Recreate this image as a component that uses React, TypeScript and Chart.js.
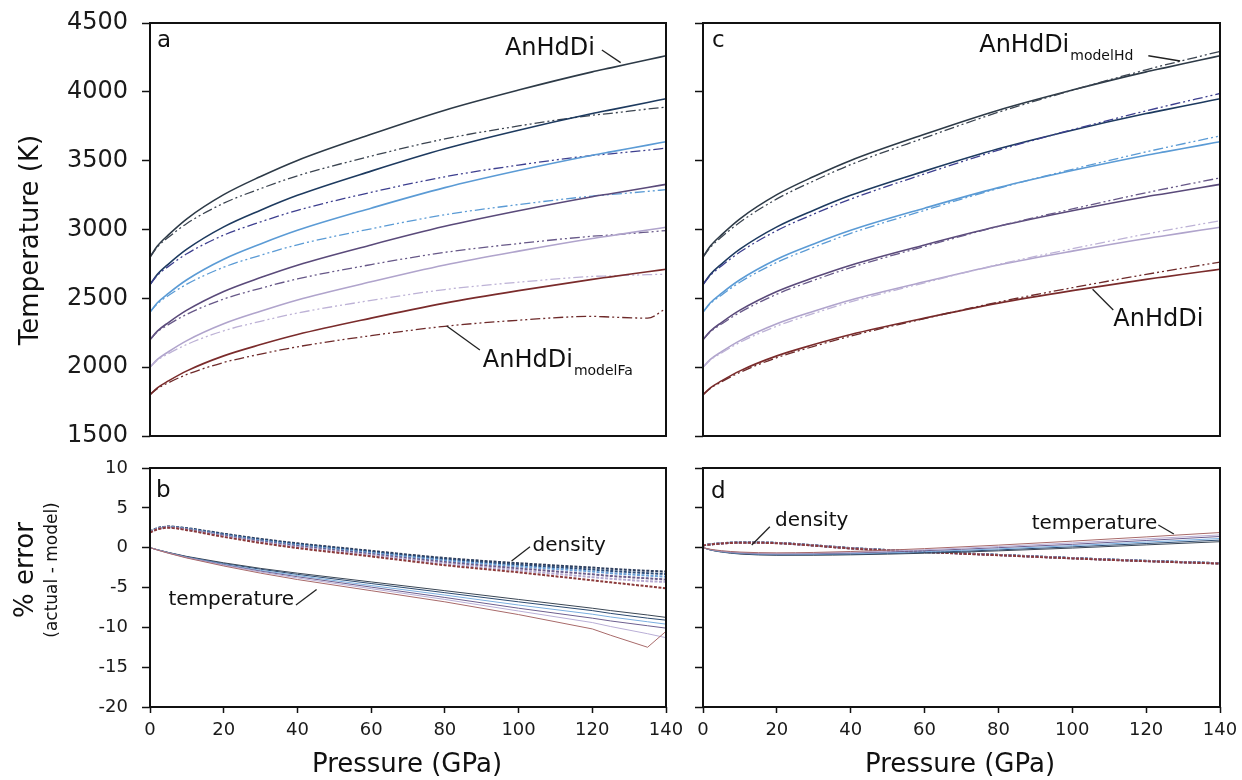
import React, { useEffect, useRef } from "react";
import { Chart, registerables } from "chart.js";

Chart.register(...registerables);

const FONT = '"DejaVu Sans", Verdana, sans-serif';

// Pressure grids (GPa)
const PRESSURE_AB = [0, 2, 5, 10, 20, 30, 40, 60, 80, 100, 120, 125, 135, 140];
const PRESSURE_CD = [0, 2, 5, 10, 20, 30, 40, 60, 80, 100, 120, 140];

// Actual adiabats (AnHdDi), K, on PRESSURE_AB
const ACTUAL_1800 = [1800, 1850, 1900, 1973, 2082, 2164, 2237, 2356, 2465, 2556, 2638, 2656, 2693, 2711];
const ACTUAL_2000 = [2000, 2056, 2112, 2193, 2315, 2406, 2488, 2620, 2742, 2843, 2935, 2955, 2996, 3016];
const ACTUAL_2200 = [2200, 2262, 2324, 2414, 2550, 2651, 2741, 2888, 3023, 3136, 3238, 3260, 3305, 3328];
const ACTUAL_2400 = [2400, 2468, 2536, 2635, 2784, 2895, 2994, 3155, 3304, 3428, 3539, 3564, 3613, 3638];
const ACTUAL_2600 = [2600, 2674, 2749, 2857, 3019, 3140, 3248, 3424, 3586, 3721, 3842, 3869, 3923, 3950];
const ACTUAL_2800 = [2800, 2880, 2961, 3078, 3253, 3385, 3502, 3692, 3867, 4013, 4145, 4174, 4233, 4262];

// Model Fa adiabats, K, on PRESSURE_AB
const MODELFA_1800 = [1800, 1844, 1887, 1947, 2034, 2095, 2148, 2229, 2297, 2341, 2369, 2364, 2356, 2426];
const MODELFA_2000 = [2000, 2050, 2098, 2165, 2264, 2333, 2393, 2485, 2564, 2617, 2659, 2663, 2672, 2675];
const MODELFA_2200 = [2200, 2256, 2309, 2384, 2495, 2573, 2641, 2745, 2834, 2898, 2951, 2960, 2981, 2992];
const MODELFA_2400 = [2400, 2461, 2520, 2603, 2726, 2813, 2889, 3005, 3107, 3181, 3243, 3254, 3277, 3289];
const MODELFA_2600 = [2600, 2667, 2732, 2824, 2959, 3055, 3139, 3270, 3383, 3468, 3538, 3550, 3576, 3591];
const MODELFA_2800 = [2800, 2873, 2943, 3044, 3191, 3297, 3390, 3533, 3658, 3752, 3830, 3844, 3875, 3889];

// Model Hd adiabats, K, on PRESSURE_CD
const MODELHD_1800 = [1800, 1846, 1893, 1962, 2069, 2151, 2226, 2353, 2473, 2577, 2674, 2763];
const MODELHD_2000 = [2000, 2052, 2103, 2180, 2298, 2390, 2474, 2613, 2746, 2860, 2967, 3064];
const MODELHD_2200 = [2200, 2257, 2313, 2398, 2530, 2631, 2723, 2877, 3023, 3149, 3267, 3375];
const MODELHD_2400 = [2400, 2462, 2523, 2617, 2761, 2871, 2972, 3139, 3299, 3437, 3564, 3680];
const MODELHD_2600 = [2600, 2667, 2735, 2836, 2992, 3112, 3221, 3404, 3576, 3725, 3862, 3988];
const MODELHD_2800 = [2800, 2871, 2945, 3053, 3222, 3353, 3471, 3666, 3852, 4011, 4160, 4294];

// % error, model Fa (panel b), on PRESSURE_AB
const ERRT_FA_1800 = [0, -0.3, -0.7, -1.3, -2.3, -3.2, -4.0, -5.4, -6.8, -8.4, -10.2, -11.0, -12.5, -10.5];
const ERRT_FA_2000 = [0, -0.29, -0.68, -1.26, -2.2, -3.05, -3.8, -5.15, -6.5, -7.95, -9.4, -9.9, -10.8, -11.3];
const ERRT_FA_2200 = [0, -0.28, -0.66, -1.23, -2.15, -2.95, -3.65, -4.95, -6.25, -7.6, -8.85, -9.2, -9.8, -10.1];
const ERRT_FA_2400 = [0, -0.27, -0.64, -1.2, -2.08, -2.85, -3.5, -4.75, -5.95, -7.2, -8.35, -8.7, -9.3, -9.6];
const ERRT_FA_2600 = [0, -0.26, -0.62, -1.15, -2.0, -2.7, -3.35, -4.5, -5.65, -6.8, -7.9, -8.25, -8.85, -9.1];
const ERRT_FA_2800 = [0, -0.25, -0.6, -1.1, -1.9, -2.6, -3.2, -4.3, -5.4, -6.5, -7.6, -7.9, -8.45, -8.75];

const ERRD_FA_1800 = [1.9, 2.3, 2.5, 2.2, 1.35, 0.6, -0.05, -1.1, -2.2, -3.1, -4.1, -4.35, -4.85, -5.1];
const ERRD_FA_2000 = [1.93, 2.33, 2.53, 2.25, 1.44, 0.7, 0.08, -0.95, -2.0, -2.85, -3.7, -3.9, -4.2, -4.3];
const ERRD_FA_2200 = [1.96, 2.37, 2.56, 2.3, 1.52, 0.8, 0.2, -0.8, -1.8, -2.6, -3.35, -3.55, -3.85, -4.0];
const ERRD_FA_2400 = [1.98, 2.4, 2.6, 2.35, 1.6, 0.9, 0.33, -0.65, -1.6, -2.35, -3.0, -3.2, -3.5, -3.65];
const ERRD_FA_2600 = [2.0, 2.43, 2.62, 2.4, 1.68, 1.0, 0.45, -0.52, -1.45, -2.15, -2.75, -2.92, -3.2, -3.3];
const ERRD_FA_2800 = [2.0, 2.45, 2.65, 2.45, 1.75, 1.1, 0.55, -0.4, -1.3, -1.95, -2.5, -2.65, -2.9, -3.0];

// % error, model Hd (panel d), on PRESSURE_CD
const ERRT_HD_1800 = [0, -0.2, -0.38, -0.55, -0.65, -0.6, -0.48, -0.12, 0.32, 0.82, 1.35, 1.9];
const ERRT_HD_2000 = [0, -0.22, -0.42, -0.6, -0.72, -0.68, -0.58, -0.26, 0.14, 0.6, 1.1, 1.6];
const ERRT_HD_2200 = [0, -0.24, -0.46, -0.65, -0.78, -0.75, -0.66, -0.38, 0.0, 0.42, 0.9, 1.4];
const ERRT_HD_2400 = [0, -0.26, -0.5, -0.7, -0.84, -0.82, -0.75, -0.5, -0.15, 0.25, 0.7, 1.15];
const ERRT_HD_2600 = [0, -0.28, -0.52, -0.75, -0.9, -0.88, -0.82, -0.6, -0.28, 0.1, 0.52, 0.95];
const ERRT_HD_2800 = [0, -0.3, -0.55, -0.8, -0.95, -0.95, -0.9, -0.7, -0.4, -0.05, 0.35, 0.75];

const ERRD_HD_1800 = [0.28, 0.4, 0.52, 0.62, 0.56, 0.26, -0.1, -0.55, -0.95, -1.35, -1.7, -2.0];
const ERRD_HD_2000 = [0.28, 0.41, 0.53, 0.63, 0.57, 0.27, -0.09, -0.54, -0.94, -1.34, -1.69, -1.99];
const ERRD_HD_2200 = [0.29, 0.41, 0.53, 0.63, 0.58, 0.28, -0.08, -0.53, -0.93, -1.33, -1.68, -1.98];
const ERRD_HD_2400 = [0.29, 0.42, 0.54, 0.64, 0.58, 0.28, -0.07, -0.52, -0.92, -1.32, -1.67, -1.97];
const ERRD_HD_2600 = [0.3, 0.42, 0.55, 0.64, 0.59, 0.29, -0.06, -0.51, -0.91, -1.31, -1.66, -1.96];
const ERRD_HD_2800 = [0.3, 0.42, 0.55, 0.65, 0.6, 0.3, -0.05, -0.5, -0.9, -1.3, -1.65, -1.95];

const Y_TICKS_TEMP = [1500, 2000, 2500, 3000, 3500, 4000, 4500];
const Y_TICKS_ERR = [-20, -15, -10, -5, 0, 5, 10];
const X_TICKS = [0, 20, 40, 60, 80, 100, 120, 140];

const SERIES = [
  { actual: ACTUAL_1800, fa: MODELFA_1800, hd: MODELHD_1800, etFa: ERRT_FA_1800, edFa: ERRD_FA_1800, etHd: ERRT_HD_1800, edHd: ERRD_HD_1800,
    cSolid: "#7a2b2b", cModel: "#6e2a2a", cErr: "#a86a6a", cDen: "#8c3a3a" },
  { actual: ACTUAL_2000, fa: MODELFA_2000, hd: MODELHD_2000, etFa: ERRT_FA_2000, edFa: ERRD_FA_2000, etHd: ERRT_HD_2000, edHd: ERRD_HD_2000,
    cSolid: "#b0a4cc", cModel: "#bdb2d6", cErr: "#b9aed6", cDen: "#b5a8d0" },
  { actual: ACTUAL_2200, fa: MODELFA_2200, hd: MODELHD_2200, etFa: ERRT_FA_2200, edFa: ERRD_FA_2200, etHd: ERRT_HD_2200, edHd: ERRD_HD_2200,
    cSolid: "#5a4a7a", cModel: "#675888", cErr: "#6d5f8f", cDen: "#6a5d8c" },
  { actual: ACTUAL_2400, fa: MODELFA_2400, hd: MODELHD_2400, etFa: ERRT_FA_2400, edFa: ERRD_FA_2400, etHd: ERRT_HD_2400, edHd: ERRD_HD_2400,
    cSolid: "#5b9bd5", cModel: "#5b9bd5", cErr: "#7aaee0", cDen: "#6a9fd6" },
  { actual: ACTUAL_2600, fa: MODELFA_2600, hd: MODELHD_2600, etFa: ERRT_FA_2600, edFa: ERRD_FA_2600, etHd: ERRT_HD_2600, edHd: ERRD_HD_2600,
    cSolid: "#1d3a5f", cModel: "#3d3f8f", cErr: "#2c4a70", cDen: "#2b4b78" },
  { actual: ACTUAL_2800, fa: MODELFA_2800, hd: MODELHD_2800, etFa: ERRT_FA_2800, edFa: ERRD_FA_2800, etHd: ERRT_HD_2800, edHd: ERRD_HD_2800,
    cSolid: "#2d3a47", cModel: "#3b4450", cErr: "#3a4654", cDen: "#2e3f5e" },
];

const zip = (xs: number[], ys: number[]) => xs.map((x, i) => ({ x, y: ys[i] }));

const MODEL_DASH = [10, 3, 2, 3, 2, 3];
const DENS_DASH = [3, 1.5];

const curve = (data: any[], color: string, width: number, dash: number[] = []) => ({
  data,
  borderColor: color,
  borderWidth: width,
  borderDash: dash,
  pointRadius: 0,
  fill: false,
  cubicInterpolationMode: "monotone" as const,
});

const straight = (data: any[], color: string, width: number, dash: number[] = []) => ({
  data,
  borderColor: color,
  borderWidth: width,
  borderDash: dash,
  pointRadius: 0,
  fill: false,
  tension: 0,
});

const decorPlugin = {
  id: "decor",
  afterDraw(chart: any, _args: any, opts: any) {
    const { ctx, chartArea, scales } = chart;
    const { left, top, right, bottom } = chartArea;
    ctx.save();
    ctx.strokeStyle = "#111";
    ctx.lineWidth = 2;
    ctx.strokeRect(left, top, right - left, bottom - top);
    ctx.fillStyle = "#111";
    ctx.textAlign = "left";
    ctx.textBaseline = "alphabetic";
    ctx.font = `23px ${FONT}`;
    ctx.fillText(opts.letter, left + opts.letterDx, top + opts.letterDy);
    const xs = scales.x;
    const ys = scales.y;
    for (const n of opts.notes || []) {
      ctx.strokeStyle = "#222";
      ctx.lineWidth = 1.3;
      ctx.beginPath();
      ctx.moveTo(xs.getPixelForValue(n.line[0]), ys.getPixelForValue(n.line[1]));
      ctx.lineTo(xs.getPixelForValue(n.line[2]), ys.getPixelForValue(n.line[3]));
      ctx.stroke();
      ctx.font = `${n.size}px ${FONT}`;
      const tx = xs.getPixelForValue(n.x);
      const ty = ys.getPixelForValue(n.y);
      ctx.fillText(n.text, tx, ty);
      if (n.sub) {
        const w = ctx.measureText(n.text).width;
        ctx.font = `14px ${FONT}`;
        ctx.fillText(n.sub, tx + w + 1, ty + 8);
      }
    }
    ctx.restore();
  },
};

function makeOptions(p: {
  yMin: number; yMax: number; yTicks: number[]; showYLabels: boolean; yWidth: number; yFont: number;
  showX: boolean; xHeight: number; padding: any; letter: string; letterDx: number; letterDy: number; notes: any[];
}) {
  return {
    responsive: false,
    animation: false as const,
    devicePixelRatio: 1,
    layout: { padding: p.padding },
    plugins: {
      legend: { display: false },
      tooltip: { enabled: false },
      decor: { letter: p.letter, letterDx: p.letterDx, letterDy: p.letterDy, notes: p.notes },
    },
    scales: {
      x: {
        type: "linear" as const,
        min: 0,
        max: 140,
        display: p.showX,
        afterFit: (s: any) => {
          if (p.showX) s.height = p.xHeight;
          s.paddingLeft = 0;
          s.paddingRight = 0;
        },
        afterBuildTicks: (s: any) => { s.ticks = X_TICKS.map((v) => ({ value: v })); },
        border: { display: false },
        grid: { display: true, drawOnChartArea: false, drawTicks: true, tickLength: 6, tickColor: "#111", tickWidth: 1.5 },
        ticks: { color: "#1a1a1a", font: { family: FONT, size: 18 }, padding: 7, maxRotation: 0, callback: (v: any) => String(v) },
      },
      y: {
        type: "linear" as const,
        min: p.yMin,
        max: p.yMax,
        afterFit: (s: any) => {
          s.width = p.yWidth;
          s.paddingTop = 0;
          s.paddingBottom = 0;
        },
        afterBuildTicks: (s: any) => { s.ticks = p.yTicks.map((v) => ({ value: v })); },
        border: { display: false },
        grid: { display: true, drawOnChartArea: false, drawTicks: true, tickLength: 8, tickColor: "#111", tickWidth: 1.5 },
        ticks: { display: p.showYLabels, color: "#1a1a1a", font: { family: FONT, size: p.yFont }, padding: 14, callback: (v: any) => String(v) },
      },
    },
  };
}

function ChartPanel({ config, left, top, width, height }: any) {
  const ref = useRef<HTMLCanvasElement | null>(null);
  useEffect(() => {
    if (!ref.current) return;
    const chart = new Chart(ref.current, config);
    return () => chart.destroy();
  }, []);
  return (
    <canvas
      ref={ref}
      width={width}
      height={height}
      style={{ position: "absolute", left, top, width, height }}
    />
  );
}

const panelA = {
  type: "line" as const,
  data: {
    datasets: SERIES.flatMap((s) => [
      curve(zip(PRESSURE_AB, s.fa), s.cModel, 1.3, MODEL_DASH),
      curve(zip(PRESSURE_AB, s.actual), s.cSolid, 1.6),
    ]),
  },
  options: makeOptions({
    yMin: 1500, yMax: 4500, yTicks: Y_TICKS_TEMP, showYLabels: true, yWidth: 150, yFont: 24,
    showX: false, xHeight: 0, padding: { top: 23, right: 14, bottom: 10, left: 0 },
    letter: "a", letterDx: 7, letterDy: 24,
    notes: [
      { text: "AnHdDi", x: 96.3, y: 4268, size: 24, line: [122.6, 4304, 127.7, 4212] },
      { text: "AnHdDi", sub: "modelFa", x: 90.3, y: 2003, size: 24, line: [80.5, 2299, 89.5, 2125] },
    ],
  }),
  plugins: [decorPlugin],
};

const panelC = {
  type: "line" as const,
  data: {
    datasets: SERIES.flatMap((s) => [
      curve(zip(PRESSURE_CD, s.hd), s.cModel, 1.3, MODEL_DASH),
      curve(zip(PRESSURE_AB, s.actual), s.cSolid, 1.6),
    ]),
  },
  options: makeOptions({
    yMin: 1500, yMax: 4500, yTicks: Y_TICKS_TEMP, showYLabels: false, yWidth: 23, yFont: 24,
    showX: false, xHeight: 0, padding: { top: 23, right: 22, bottom: 10, left: 0 },
    letter: "c", letterDx: 9, letterDy: 24,
    notes: [
      { text: "AnHdDi", sub: "modelHd", x: 74.8, y: 4289, size: 24, line: [120.6, 4262, 129.2, 4224] },
      { text: "AnHdDi", x: 111.1, y: 2299, size: 24, line: [105.5, 2566, 111.1, 2415] },
    ],
  }),
  plugins: [decorPlugin],
};

const panelB = {
  type: "line" as const,
  data: {
    datasets: [
      ...SERIES.map((s) => straight(zip(PRESSURE_AB, s.etFa), s.cErr, 1)),
      ...SERIES.map((s) => curve(zip(PRESSURE_AB, s.edFa), s.cDen, 2, DENS_DASH)),
    ],
  },
  options: makeOptions({
    yMin: -20, yMax: 10, yTicks: Y_TICKS_ERR, showYLabels: true, yWidth: 150, yFont: 18,
    showX: true, xHeight: 73, padding: { top: 22, right: 34, bottom: 0, left: 0 },
    letter: "b", letterDx: 6, letterDy: 29,
    notes: [
      { text: "density", x: 103.8, y: -0.39, size: 20, line: [98.1, -1.68, 103.1, 0.11] },
      { text: "temperature", x: 5.0, y: -7.2, size: 20, line: [39.6, -7.2, 45.2, -5.24] },
    ],
  }),
  plugins: [decorPlugin],
};

const panelD = {
  type: "line" as const,
  data: {
    datasets: [
      ...SERIES.map((s) => curve(zip(PRESSURE_CD, s.etHd), s.cErr, 1)),
      ...SERIES.map((s) => curve(zip(PRESSURE_CD, s.edHd), s.cDen, 2, DENS_DASH)),
    ],
  },
  options: makeOptions({
    yMin: -20, yMax: 10, yTicks: Y_TICKS_ERR, showYLabels: false, yWidth: 23, yFont: 18,
    showX: true, xHeight: 73, padding: { top: 22, right: 22, bottom: 0, left: 0 },
    letter: "d", letterDx: 8, letterDy: 30,
    notes: [
      { text: "density", x: 19.5, y: 2.71, size: 20, line: [13.2, 0.33, 18.1, 2.63] },
      { text: "temperature", x: 89.0, y: 2.3, size: 20, line: [123.3, 2.84, 127.5, 1.71] },
    ],
  }),
  plugins: [decorPlugin],
};

const titleStyle = (cx: number, cy: number, size: number, rotate: boolean): React.CSSProperties => ({
  position: "absolute",
  left: cx,
  top: cy,
  transform: `translate(-50%, -50%)${rotate ? " rotate(-90deg)" : ""}`,
  fontFamily: FONT,
  fontSize: size,
  lineHeight: 1,
  whiteSpace: "nowrap",
  color: "#111",
});

export default function App() {
  return (
    <div style={{ position: "fixed", left: 0, top: 0, width: 1242, height: 780, background: "#fff", overflow: "hidden" }}>
      <ChartPanel config={panelA} left={0} top={0} width={680} height={446} />
      <ChartPanel config={panelC} left={680} top={0} width={562} height={446} />
      <ChartPanel config={panelB} left={0} top={446} width={700} height={334} />
      <ChartPanel config={panelD} left={680} top={446} width={562} height={334} />
      <div style={titleStyle(29, 240, 26, true)}>Temperature (K)</div>
      <div style={titleStyle(24, 570, 26, true)}>% error</div>
      <div style={titleStyle(51, 570, 17, true)}>(actual - model)</div>
      <div style={titleStyle(407, 763, 26, false)}>Pressure (GPa)</div>
      <div style={titleStyle(960, 763, 26, false)}>Pressure (GPa)</div>
    </div>
  );
}
